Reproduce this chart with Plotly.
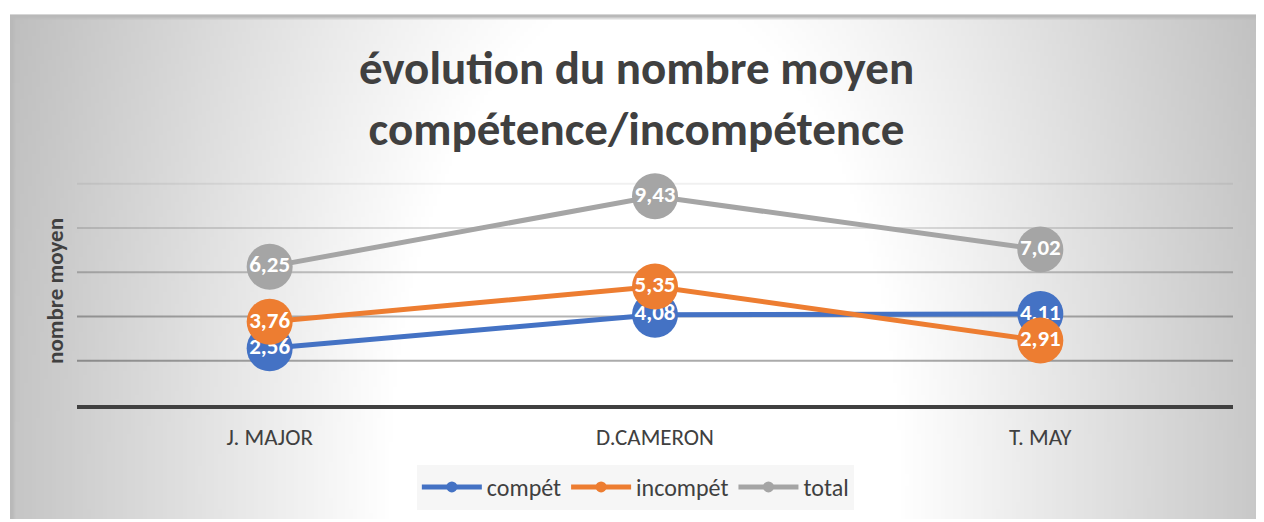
import base64
import struct
import zlib

import plotly.graph_objs as go

# data
categories = ["J. MAJOR", "D.CAMERON", "T. MAY"]
compet = [2.56, 4.08, 4.11]
incompet = [3.76, 5.35, 2.91]
total = [6.25, 9.43, 7.02]
series_names = ["compét", "incompét", "total"]
series_colors = ["#4472C4", "#ED7D31", "#A5A5A5"]
grid_vals = [2, 4, 6, 8, 10]
grid_alpha = [0.33, 0.3, 0.22, 0.13, 0.06]  # Excel gridlines fade towards the top

FONT = "Carlito, Lato, 'Open Sans', sans-serif"
TXT = "#404040"

# page body has an 8px margin, so the figure is drawn 8px smaller
W, H = 1256, 514


def gradient_png(w, h):
    # radial-ish grey background like the Excel chart area, as a tiny PNG
    cx, cy, rx, ry = w * 0.505, h * 0.92, w * 0.205, h * 0.98
    rows = []
    for j in range(h):
        row = bytearray([0])
        for i in range(w):
            r = (((i - cx) / rx) ** 2 + ((j - cy) / ry) ** 2) ** 0.5
            v = 255 if r <= 1 else 255 - min((r - 1) / 1.4, 1.15) * 55
            if j == 0 or i == 0:
                v = 185
            row.append(int(max(0, min(255, v))))
        rows.append(bytes(row))
    raw = zlib.compress(b"".join(rows), 9)

    def chunk(tag, data):
        c = tag + data
        return struct.pack(">I", len(data)) + c + struct.pack(">I", zlib.crc32(c) & 0xffffffff)

    png = (b"\x89PNG\r\n\x1a\n"
           + chunk(b"IHDR", struct.pack(">IIBBBBB", w, h, 8, 0, 0, 0, 0))
           + chunk(b"IDAT", raw)
           + chunk(b"IEND", b""))
    return "data:image/png;base64," + base64.b64encode(png).decode()


def lbl(vals):
    return [f"{v:.2f}".replace(".", ",") for v in vals]


fig = go.Figure()
for vals, name, color in zip([compet, incompet, total], series_names, series_colors):
    fig.add_trace(go.Scatter(x=categories, y=vals, mode="lines+markers+text",
                             line=dict(color=color, width=5),
                             marker=dict(color=color, size=46),
                             text=lbl(vals), textposition="middle center",
                             textfont=dict(family=FONT, size=23, color="white", weight="bold"),
                             showlegend=False, hoverinfo="skip", cliponaxis=False))
# legend entries with small markers
for name, color in zip(series_names, series_colors):
    fig.add_trace(go.Scatter(x=[None], y=[None], mode="lines+markers", name=name,
                             line=dict(color=color, width=5),
                             marker=dict(color=color, size=11)))

for gv, ga in zip(grid_vals, grid_alpha):
    fig.add_shape(type="line", xref="paper", x0=0, x1=1, yref="y", y0=gv, y1=gv,
                  line=dict(color=f"rgba(0,0,0,{ga})", width=2), layer="below")

L, R, T, B = 69, 31, 169, 115
pw, ph = W - L - R, H - T - B

fig.add_layout_image(dict(source=gradient_png(316, 128), xref="paper", yref="paper",
                          x=(2 - L) / pw, y=(H - B - 5) / ph,
                          sizex=(W - 2) / pw, sizey=(H - 5) / ph,
                          xanchor="left", yanchor="top", sizing="stretch",
                          layer="below"))

fig.update_layout(
    width=W, height=H,
    margin=dict(l=L, r=R, t=T, b=B),
    paper_bgcolor="white", plot_bgcolor="rgba(0,0,0,0)",
    title=dict(text="évolution du nombre moyen<br>compétence/incompétence",
               x=628.5 / W, xanchor="center", y=1 - 76 / H, yanchor="middle",
               yref="container",
               font=dict(family=FONT, size=47, color=TXT, weight="bold")),
    xaxis=dict(range=[-0.5, 2.5], showgrid=False, showline=True,
               linecolor="#404040", linewidth=4, ticks="",
               tickfont=dict(family=FONT, size=23, color=TXT), ticklabelstandoff=8),
    yaxis=dict(range=[0, 10.3], tickvals=grid_vals, showticklabels=False,
               showgrid=False, zeroline=False,
               title=dict(text="nombre moyen", standoff=5,
                          font=dict(family=FONT, size=23, color=TXT, weight="bold"))),
    legend=dict(orientation="h", x=0.483, xanchor="center", y=(H - B - 482) / ph,
                yanchor="middle", bgcolor="rgba(244,244,244,0.85)",
                font=dict(family=FONT, size=24, color=TXT), itemwidth=60),
)

fig.write_html("out.html")
